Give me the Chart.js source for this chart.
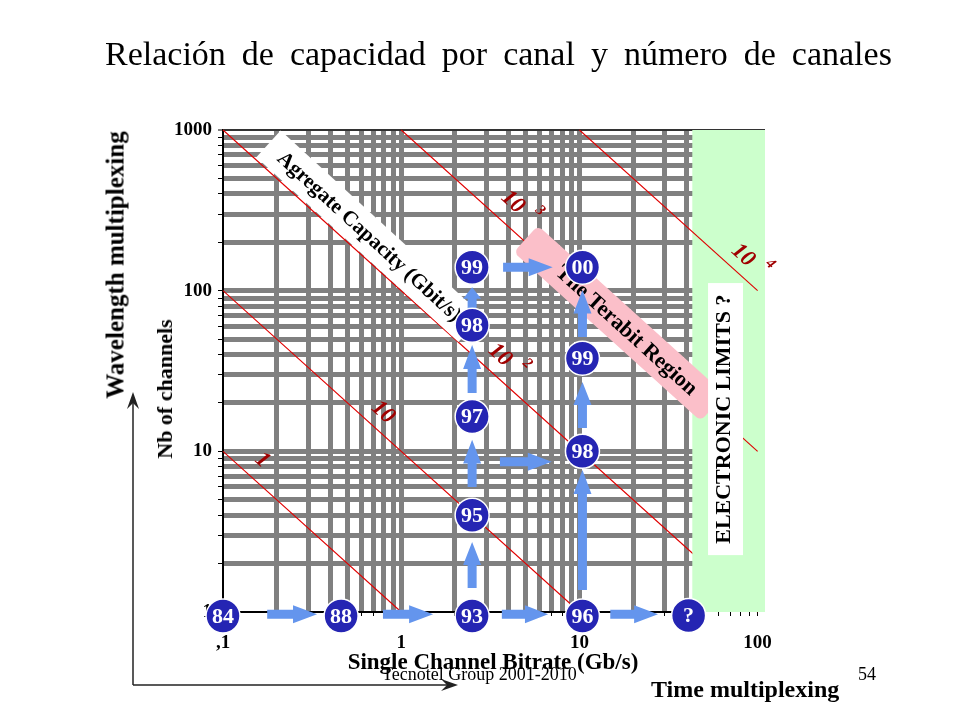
<!DOCTYPE html>
<html>
<head>
<meta charset="utf-8">
<script src="https://cdn.jsdelivr.net/npm/chart.js@4.4.1/dist/chart.umd.min.js"></script>
<style>
  html, body { margin: 0; padding: 0; background: #fff; }
  #wrap { position: relative; width: 960px; height: 720px; overflow: hidden; font-family: 'Liberation Serif', 'Times New Roman', serif; }
  #chart { position: absolute; left: 0; top: 0; }
  .txt { position: absolute; white-space: nowrap; line-height: 1; color: #000; }
  .rot { transform: translate(-50%, -50%) rotate(-90deg); }
</style>
</head>
<body>
<div id="wrap">
  <canvas id="chart" width="960" height="720"></canvas>
  <div class="txt" style="left:105px;top:36.5px;font-size:34px;word-spacing:7.5px">Relación de capacidad por canal y número de canales</div>
  <div class="txt rot" style="left:115px;top:265px;font-size:25px;font-weight:bold">Wavelength multiplexing</div>
  <div class="txt rot" style="left:165px;top:389px;font-size:22px;font-weight:bold">Nb of channels</div>
  <div class="txt" style="left:493px;top:649.5px;font-size:23px;font-weight:bold;transform:translateX(-50%)">Single Channel Bitrate (Gb/s)</div>
  <div class="txt" style="left:382px;top:665px;font-size:18px">Tecnotel Group 2001-2010</div>
  <div class="txt" style="left:858px;top:665px;font-size:18px">54</div>
  <div class="txt" style="left:651px;top:677px;font-size:24px;font-weight:bold">Time multiplexing</div>
</div>
<script>
// axis labels
const xTickValues = [0.1, 1, 10, 100];
const xTickLabels = [',1', '1', '10', '100'];
const yTickValues = [1, 10, 100, 1000];
const yTickLabels = ['1', '10', '100', '1000'];

// milestones: year, single channel bitrate (Gb/s), nb of channels
const years = ['84', '88', '93', '96', '?', '95', '97', '98', '99', '98', '99', '00'];
const bitrate = [0.1, 0.46, 2.5, 10.4, 41, 2.5, 2.5, 2.5, 2.5, 10.4, 10.4, 10.4];
const channels = [0.945, 0.945, 0.945, 0.945, 0.95, 4, 16.5, 61, 140, 10, 38, 140];

// arrows (tail -> head)
const arrowFromX = [0.177, 0.79, 3.67, 14.9, 2.5, 2.5, 2.5, 2.5, 10.4, 10.4, 10.4, 3.73, 3.58];
const arrowFromY = [0.97, 0.97, 0.97, 0.97, 1.41, 6.0, 23.1, 75.7, 1.37, 13.96, 51.4, 140, 8.6];
const arrowToX = [0.337, 1.51, 6.67, 27.6, 2.5, 2.5, 2.5, 2.5, 10.4, 10.4, 10.4, 7.08, 7.0];
const arrowToY = [0.97, 0.97, 0.97, 0.97, 2.73, 11.8, 45.9, 105, 7.65, 27.0, 100.9, 140, 8.6];

// aggregate capacity lines (Gbit/s)
const capacities = [1, 10, 100, 1000, 10000];
const capLabelX = [0.166, 0.79, 3.58, 4.23, 82.7];
const capLabelY = [8.8, 17.5, 39.7, 356, 166];
const capLabelText = ['1', '10', '10', '10', '10'];
const capLabelExp = ['', '', '2', '3', '4'];

// zones
const electronicLimit = 43;
const aggBandX = [0.18, 2.45], aggBandY = [820, 58];
const terabitBandX = [5, 56], terabitBandY = [210, 18.7];
const limitBoxX = [52.7, 82.8], limitBoxY = [2.26, 111.5];

const FONT = "'Liberation Serif', 'Times New Roman', serif";
Chart.defaults.font.family = FONT;

function gridValues(lo, hi) {
  const out = [];
  for (let d = lo; d <= hi * 1.0001; d *= 10) {
    for (let k = 1; k <= 9; k++) {
      const v = Number((k * d).toPrecision(6));
      if (v <= hi * 1.0001) out.push(v);
    }
  }
  return out;
}

function tickLabel(v, vals, labels) {
  const i = vals.findIndex(t => Math.abs(v - t) < t * 1e-6);
  return i < 0 ? '' : labels[i];
}

function px(chart, x, y) {
  return [chart.scales.x.getPixelForValue(x), chart.scales.y.getPixelForValue(y)];
}

function band(ctx, a, b, thick, fill, radius) {
  const ang = Math.atan2(b[1] - a[1], b[0] - a[0]);
  const len = Math.hypot(b[0] - a[0], b[1] - a[1]);
  ctx.save();
  ctx.translate(a[0], a[1]);
  ctx.rotate(ang);
  ctx.fillStyle = fill;
  ctx.beginPath();
  if (radius) ctx.roundRect(0, -thick / 2, len, thick, radius);
  else ctx.rect(0, -thick / 2, len, thick);
  ctx.fill();
  ctx.restore();
}

function bandText(ctx, a, b, t, text, font) {
  const ang = Math.atan2(b[1] - a[1], b[0] - a[0]);
  ctx.save();
  ctx.translate(a[0] + (b[0] - a[0]) * t, a[1] + (b[1] - a[1]) * t);
  ctx.rotate(ang);
  ctx.font = font;
  ctx.fillStyle = '#000';
  ctx.textAlign = 'center';
  ctx.textBaseline = 'middle';
  ctx.fillText(text, 0, 1);
  ctx.restore();
}

function blockArrow(ctx, x0, y0, x1, y1) {
  const ang = Math.atan2(y1 - y0, x1 - x0), len = Math.hypot(x1 - x0, y1 - y0);
  const hl = Math.min(24, len * 0.5), sw = 4.5, hw = 9;
  ctx.save();
  ctx.translate(x0, y0);
  ctx.rotate(ang);
  ctx.beginPath();
  ctx.moveTo(0, -sw);
  ctx.lineTo(len - hl, -sw);
  ctx.lineTo(len - hl, -hw);
  ctx.lineTo(len, 0);
  ctx.lineTo(len - hl, hw);
  ctx.lineTo(len - hl, sw);
  ctx.lineTo(0, sw);
  ctx.closePath();
  ctx.fill();
  ctx.restore();
}

function lineArrow(ctx, x0, y0, x1, y1) {
  const ang = Math.atan2(y1 - y0, x1 - x0), len = Math.hypot(x1 - x0, y1 - y0);
  ctx.save();
  ctx.translate(x0, y0);
  ctx.rotate(ang);
  ctx.beginPath();
  ctx.moveTo(0, 0);
  ctx.lineTo(len - 8, 0);
  ctx.stroke();
  ctx.beginPath();
  ctx.moveTo(len, 0);
  ctx.lineTo(len - 17, -6);
  ctx.lineTo(len - 11, 0);
  ctx.lineTo(len - 17, 6);
  ctx.closePath();
  ctx.fill();
  ctx.restore();
}

const overlay = {
  id: 'overlay',
  beforeDatasetsDraw(chart) {
    const ctx = chart.ctx, area = chart.chartArea;
    ctx.save();

    // top frame line
    ctx.strokeStyle = '#333';
    ctx.lineWidth = 2;
    ctx.beginPath();
    ctx.moveTo(area.left, area.top);
    ctx.lineTo(area.right, area.top);
    ctx.stroke();

    const capLine = c => {
      const x0 = Math.max(0.1, c / 1000), x1 = Math.min(100, c);
      const a = px(chart, x0, c / x0), b = px(chart, x1, c / x1);
      ctx.beginPath();
      ctx.moveTo(a[0], a[1]);
      ctx.lineTo(b[0], b[1]);
      ctx.stroke();
    };
    ctx.strokeStyle = '#e00000';
    ctx.lineWidth = 1.1;
    capacities.filter(c => c <= 100).forEach(capLine);

    // electronic limits zone
    const gx = chart.scales.x.getPixelForValue(electronicLimit);
    ctx.fillStyle = '#ccffcc';
    ctx.fillRect(gx, area.top, area.right - gx, area.bottom - area.top);

    // x axis line
    ctx.strokeStyle = '#000';
    ctx.lineWidth = 2;
    ctx.beginPath();
    ctx.moveTo(area.left, area.bottom);
    ctx.lineTo(gx, area.bottom);
    ctx.stroke();

    ctx.strokeStyle = '#e00000';
    ctx.lineWidth = 1.1;
    capacities.filter(c => c > 100).forEach(capLine);

    // aggregate capacity band
    const a1 = px(chart, aggBandX[0], aggBandY[0]), b1 = px(chart, aggBandX[1], aggBandY[1]);
    band(ctx, a1, b1, 36, '#ffffff', 0);
    bandText(ctx, a1, b1, 0.5, 'Agregate Capacity (Gbit/s)', 'bold 21px ' + FONT);

    // terabit region band
    const a2 = px(chart, terabitBandX[0], terabitBandY[0]), b2 = px(chart, terabitBandX[1], terabitBandY[1]);
    band(ctx, a2, b2, 36, '#fbbfc9', 6);
    bandText(ctx, a2, b2, 0.54, 'The Terabit Region', 'bold 22px ' + FONT);

    // electronic limits box
    const p0 = px(chart, limitBoxX[0], limitBoxY[1]), p1 = px(chart, limitBoxX[1], limitBoxY[0]);
    ctx.fillStyle = '#fff';
    ctx.fillRect(p0[0], p0[1], p1[0] - p0[0], p1[1] - p0[1]);
    ctx.save();
    ctx.translate((p0[0] + p1[0]) / 2 - 2, (p0[1] + p1[1]) / 2);
    ctx.rotate(-Math.PI / 2);
    ctx.font = 'bold 22px ' + FONT;
    ctx.fillStyle = '#000';
    ctx.textAlign = 'center';
    ctx.textBaseline = 'middle';
    ctx.fillText('ELECTRONIC LIMITS ?', 0, 1);
    ctx.restore();

    // capacity labels
    const ang = Math.atan2(chart.scales.y.getPixelForValue(1) - chart.scales.y.getPixelForValue(10),
      chart.scales.x.getPixelForValue(1) - chart.scales.x.getPixelForValue(0.1));
    ctx.fillStyle = '#a00000';
    ctx.textAlign = 'center';
    ctx.textBaseline = 'middle';
    capLabelText.forEach((t, i) => {
      const p = px(chart, capLabelX[i], capLabelY[i]);
      ctx.save();
      ctx.translate(p[0], p[1]);
      ctx.rotate(ang);
      ctx.font = 'italic bold 23px ' + FONT;
      ctx.fillText(t, 0, 0);
      if (capLabelExp[i]) {
        ctx.font = 'italic bold 15px ' + FONT;
        ctx.fillText(capLabelExp[i], 26, -12);
      }
      ctx.restore();
    });

    // arrows
    ctx.fillStyle = '#6495ed';
    arrowFromX.forEach((x, i) => {
      const a = px(chart, x, arrowFromY[i]), b = px(chart, arrowToX[i], arrowToY[i]);
      blockArrow(ctx, a[0], a[1], b[0], b[1]);
    });

    // outer multiplexing axes
    ctx.strokeStyle = '#222';
    ctx.fillStyle = '#222';
    ctx.lineWidth = 1.5;
    const ox = area.left - 90, oy = area.bottom + 73;
    lineArrow(ctx, ox, oy, ox, area.top + 262);
    lineArrow(ctx, ox, oy, area.left + 235, oy);

    ctx.restore();
  },
  afterDatasetsDraw(chart) {
    const ctx = chart.ctx;
    ctx.save();
    ctx.font = 'bold 22px ' + FONT;
    ctx.fillStyle = '#fff';
    ctx.textAlign = 'center';
    ctx.textBaseline = 'middle';
    chart.getDatasetMeta(0).data.forEach((pt, i) => {
      ctx.fillText(years[i], pt.x, pt.y + 1);
    });
    ctx.restore();
  }
};

new Chart(document.getElementById('chart'), {
  type: 'scatter',
  data: {
    datasets: [{
      data: bitrate.map((b, i) => ({ x: b, y: channels[i] })),
      pointRadius: 17,
      pointHoverRadius: 17,
      backgroundColor: '#2525b3',
      borderColor: '#ffffff',
      borderWidth: 1.5,
      clip: false
    }]
  },
  options: {
    responsive: false,
    animation: false,
    devicePixelRatio: 1,
    events: [],
    layout: { padding: { left: 150, top: 130, right: 195, bottom: 68 } },
    plugins: { legend: { display: false }, tooltip: { enabled: false } },
    scales: {
      x: {
        type: 'logarithmic',
        min: 0.1,
        max: 110,
        afterBuildTicks: s => { s.ticks = gridValues(0.1, 100).map(v => ({ value: v })); },
        afterFit: s => { s.height = 40; },
        ticks: {
          autoSkip: false, maxRotation: 0, minRotation: 0, padding: 16, color: '#000',
          font: { size: 19, weight: 'bold' },
          callback: v => tickLabel(v, xTickValues, xTickLabels)
        },
        grid: {
          color: '#808080',
          lineWidth: c => (c.tick && c.tick.value > 0.1001) ? 5 : 0,
          tickColor: '#000', tickWidth: 1, tickLength: 4
        },
        border: { display: false }
      },
      y: {
        type: 'logarithmic',
        min: 1,
        max: 1000,
        afterBuildTicks: s => { s.ticks = gridValues(1, 1000).map(v => ({ value: v })); },
        afterFit: s => { s.width = 73; },
        ticks: {
          autoSkip: false, padding: 6, color: '#000',
          font: { size: 19, weight: 'bold' },
          callback: v => tickLabel(v, yTickValues, yTickLabels)
        },
        grid: {
          color: '#808080',
          lineWidth: c => (c.tick && c.tick.value > 1.001 && c.tick.value < 999) ? 5 : 0,
          tickColor: '#000', tickWidth: 1, tickLength: 5
        },
        border: { display: true, color: '#000', width: 2 }
      }
    }
  },
  plugins: [overlay]
});
</script>
</body>
</html>
